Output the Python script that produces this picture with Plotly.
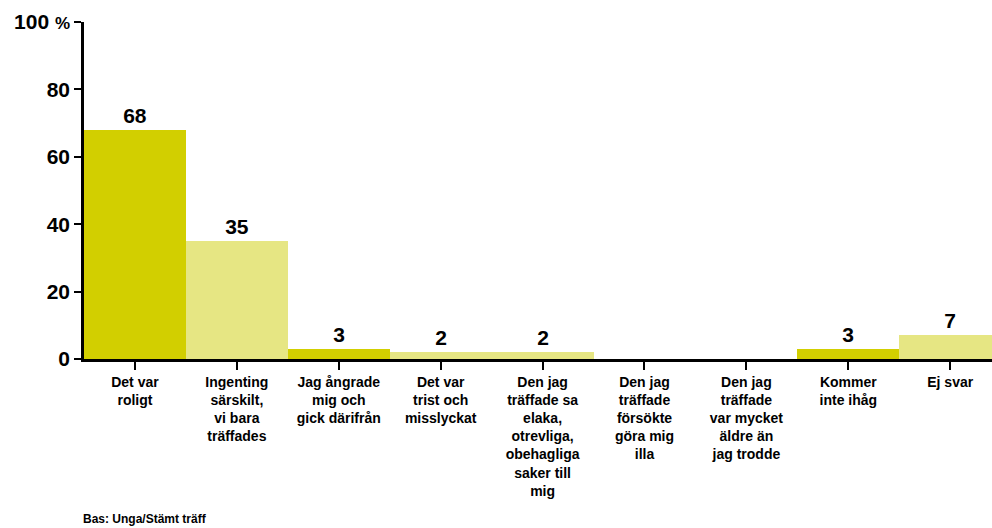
import plotly.graph_objects as go

categories = [
    "Det var<br>roligt",
    "Ingenting<br>särskilt,<br>vi bara<br>träffades",
    "Jag ångrade<br>mig och<br>gick därifrån",
    "Det var<br>trist och<br>misslyckat",
    "Den jag<br>träffade sa<br>elaka,<br>otrevliga,<br>obehagliga<br>saker till<br>mig",
    "Den jag<br>träffade<br>försökte<br>göra mig<br>illa",
    "Den jag<br>träffade<br>var mycket<br>äldre än<br>jag trodde",
    "Kommer<br>inte ihåg",
    "Ej svar",
]
values = [68, 35, 3, 2, 2, 0, 0, 3, 7]
y_tick_vals = [0, 20, 40, 60, 80, 100]
y_tick_text = ["0", "20", "40", "60", "80", "100 <span style='font-size:17px'>%</span>"]
footer = "Bas: Unga/Stämt träff"

DARK = "#d2cf00"
LIGHT = "#e6e683"
bar_colors = [DARK, LIGHT, DARK, LIGHT, LIGHT, LIGHT, LIGHT, DARK, LIGHT]

FONT = "Liberation Sans, Arial, sans-serif"

fig = go.Figure(go.Bar(
    x=list(range(len(categories))),
    y=values,
    marker=dict(color=bar_colors, line=dict(width=0)),
    text=[f"<b>{v}</b>" if v else "" for v in values],
    textposition="outside",
    cliponaxis=False,
    textfont=dict(family=FONT, size=21, color="black"),
    hoverinfo="skip",
))

fig.update_layout(
    width=992, height=528,
    margin=dict(l=84, r=0, t=22, b=169),
    paper_bgcolor="white", plot_bgcolor="white",
    bargap=0,
    showlegend=False,
    font=dict(family=FONT, color="black"),
    xaxis=dict(
        tickmode="array",
        tickvals=list(range(len(categories))),
        ticktext=[f"<b>{c}</b>" for c in categories],
        range=[-0.5, 8.41],
        showline=True, linecolor="black", linewidth=2.5,
        ticks="outside", ticklen=8, tickwidth=2, tickcolor="black",
        showgrid=False, zeroline=False,
        tickfont=dict(family=FONT, size=14, color="black"),
        tickangle=0,
    ),
    yaxis=dict(
        range=[0, 100],
        tickmode="array",
        tickvals=y_tick_vals,
        ticktext=[f"<b>{t}</b>" for t in y_tick_text],
        showline=True, linecolor="black", linewidth=2.5,
        ticks="outside", ticklen=7, tickwidth=2, tickcolor="black",
        showgrid=False, zeroline=False,
        tickfont=dict(family=FONT, size=21, color="black"),
    ),
    annotations=[dict(
        text=f"<b>{footer}</b>", xref="paper", yref="paper",
        x=-0.003, y=-0.475, xanchor="left", yanchor="middle",
        showarrow=False, font=dict(family=FONT, size=12, color="black"),
    )],
)

fig.write_html(
    "out.html",
    config={"displayModeBar": False},
    post_script="document.body.style.margin='0';document.body.style.overflow='hidden';",
)
